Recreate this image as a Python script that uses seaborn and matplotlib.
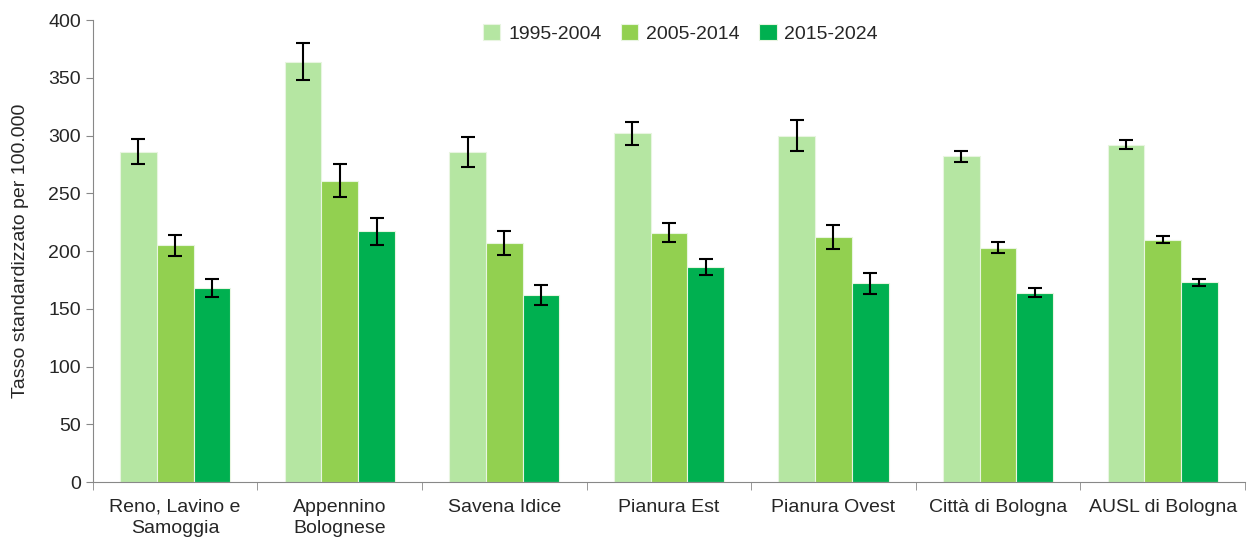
import pandas as pd
import matplotlib
matplotlib.use('Agg')
import matplotlib.pyplot as plt
import seaborn as sns
import numpy as np

# data
distretti = ['Reno, Lavino e\nSamoggia', 'Appennino\nBolognese', 'Savena Idice',
             'Pianura Est', 'Pianura Ovest', 'Città di Bologna', 'AUSL di Bologna']
periodi = ['1995-2004', '2005-2014', '2015-2024']
tasso_1995 = [286, 364, 286, 302, 300, 282, 292]
tasso_2005 = [205, 261, 207, 216, 212, 203, 210]
tasso_2015 = [168, 217, 162, 186, 172, 164, 173]
err_1995 = [11, 16, 13, 10, 13.5, 5, 4]
err_2005 = [9, 14, 10.5, 8, 10.5, 4.5, 3.3]
err_2015 = [8, 12, 9, 7, 9, 4, 3]
colori = ['#B5E6A2', '#92D050', '#00B050']

df = pd.DataFrame({
    'distretto': distretti * 3,
    'periodo': np.repeat(periodi, len(distretti)),
    'tasso': tasso_1995 + tasso_2005 + tasso_2015,
    'err': err_1995 + err_2005 + err_2015,
})

sns.set_style('white')
plt.rcParams['font.family'] = ['Liberation Sans', 'DejaVu Sans']

fig, ax = plt.subplots(figsize=(12.55, 5.43), dpi=100)
sns.barplot(data=df, x='distretto', y='tasso', hue='periodo', palette=colori,
            saturation=1, width=0.67, errorbar=None, edgecolor='#E8F5E0',
            linewidth=0.8, ax=ax)

# error bars at the bar centres
for cont, per in zip(ax.containers, periodi):
    sub = df[df['periodo'] == per]
    xs = [p.get_x() + p.get_width() / 2 for p in cont.patches]
    ax.errorbar(xs, sub['tasso'].values, yerr=sub['err'].values, fmt='none',
                ecolor='black', elinewidth=1.5, capsize=5, capthick=1.5)

ax.set_ylim(0, 400)
ax.set_xlim(-0.5, len(distretti) - 0.5)
ax.set_yticks(range(0, 401, 50))
ax.set_xlabel('')
ax.set_ylabel('Tasso standardizzato per 100.000', fontsize=14, labelpad=14)
ax.tick_params(axis='y', labelsize=14, length=5, color='#888888', direction='out', left=True)
ax.tick_params(axis='x', which='major', labelsize=14, length=0, pad=12)
for lab in ax.get_xticklabels():
    lab.set_linespacing(1.35)
ax.set_xticks(np.arange(-0.5, len(distretti)), minor=True)
ax.tick_params(axis='x', which='minor', length=6, color='#888888', bottom=True)
for s in ['top', 'right']:
    ax.spines[s].set_visible(False)
for s in ['left', 'bottom']:
    ax.spines[s].set_color('#888888')

ax.legend(loc='upper center', bbox_to_anchor=(0.51, 1.03), ncol=3, frameon=False,
          fontsize=14, handlelength=0.9, handleheight=0.9, columnspacing=1.0,
          handletextpad=0.4)

plt.subplots_adjust(left=0.074, right=0.992, top=0.963, bottom=0.112)
plt.savefig('out.png', dpi=100)
